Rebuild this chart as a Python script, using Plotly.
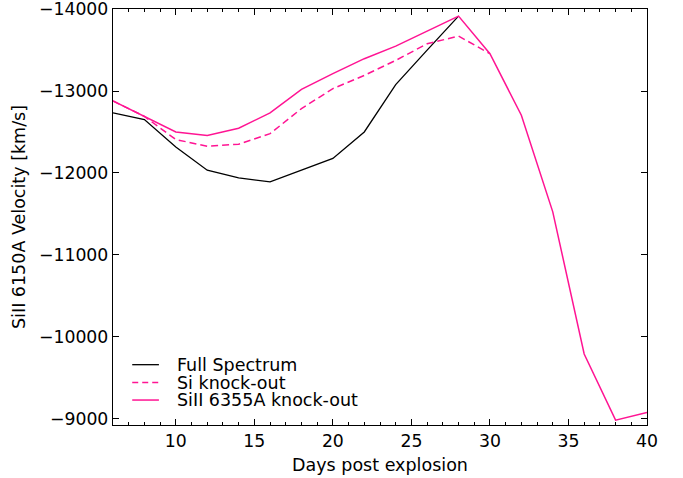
import plotly.graph_objects as go

days_full = [6, 8, 10, 12, 14, 16, 18, 20, 22, 24, 26, 28]
vel_full = [-12732, -12652, -12317, -12033, -11939, -11890, -12033, -12176, -12500, -13078, -13500, -13915]

days_si = [6, 8, 10, 12, 14, 16, 18, 20, 22, 24, 26, 28, 30]
vel_si = [-12878, -12690, -12407, -12326, -12350, -12480, -12785, -13029, -13191, -13374, -13577, -13671, -13456]

days_siII = [6, 8, 10, 12, 14, 16, 18, 20, 22, 24, 26, 28, 30, 32, 34, 36, 38, 40]
vel_siII = [-12878, -12690, -12500, -12457, -12546, -12732, -13021, -13212, -13395, -13549, -13732, -13915,
            -13456, -12704, -11524, -9787, -8979, -9073]

y_ticks = [-14000, -13000, -12000, -11000, -10000, -9000]
y_ticklabels = ["\u221214000", "\u221213000", "\u221212000", "\u221211000", "\u221210000", "\u22129000"]
x_ticks = [10, 15, 20, 25, 30, 35, 40]
x_ticklabels = ["10", "15", "20", "25", "30", "35", "40"]

legend_names = ["Full Spectrum", "Si knock-out", "SiII 6355A knock-out"]
PINK = "#ff1493"
FONT = "DejaVu Sans"
FS = 17.5

fig = go.Figure()
fig.add_trace(go.Scatter(x=days_full, y=vel_full, mode="lines", name=legend_names[0],
                         line=dict(color="black", width=1.3)))
fig.add_trace(go.Scatter(x=days_si, y=vel_si, mode="lines", name=legend_names[1],
                         line=dict(color=PINK, width=1.5, dash="7px,4px")))
fig.add_trace(go.Scatter(x=days_siII, y=vel_siII, mode="lines", name=legend_names[2],
                         line=dict(color=PINK, width=1.5)))

# manual legend (matplotlib style, no frame)
leg_y = [0.145, 0.102, 0.06]
leg_styles = [dict(color="black", width=1.3), dict(color=PINK, width=1.5, dash="6px,4px"), dict(color=PINK, width=1.5)]
for name, yy, st in zip(legend_names, leg_y, leg_styles):
    fig.add_shape(type="line", xref="paper", yref="paper", x0=0.036, x1=0.086, y0=yy, y1=yy, line=st)
    fig.add_annotation(xref="paper", yref="paper", x=0.1165, y=yy, text=name, showarrow=False,
                       xanchor="left", yanchor="middle", font=dict(size=FS, color="black", family=FONT))

axis_common = dict(showline=True, linecolor="black", linewidth=1.3, mirror="ticks", ticks="inside",
                   tickcolor="black", tickwidth=1, showgrid=False, zeroline=False,
                   ticklabeloverflow="allow",
                   tickfont=dict(size=17.3, color="black", family=FONT))

fig.update_xaxes(range=[6, 40], tickvals=x_ticks, ticktext=x_ticklabels, ticklen=6,
                 minor=dict(dtick=1, tick0=6, ticks="inside", ticklen=3, tickcolor="black", showgrid=False),
                 title=dict(text="Days post explosion", font=dict(size=FS, color="black", family=FONT), standoff=8),
                 **axis_common)
fig.update_yaxes(range=[-8920, -14002], tickvals=y_ticks, ticktext=y_ticklabels, ticklen=6,
                 title=dict(text="SiII 6150A Velocity [km/s]", font=dict(size=FS, color="black", family=FONT), standoff=8),
                 **axis_common)

fig.update_layout(width=683, height=478, showlegend=False,
                  margin=dict(l=113, r=36, t=9, b=53, autoexpand=False),
                  paper_bgcolor="white", plot_bgcolor="white",
                  font=dict(family=FONT, color="black"))

fig.write_html("out.html", config={"displayModeBar": False},
               post_script="document.body.style.margin='0px';")
